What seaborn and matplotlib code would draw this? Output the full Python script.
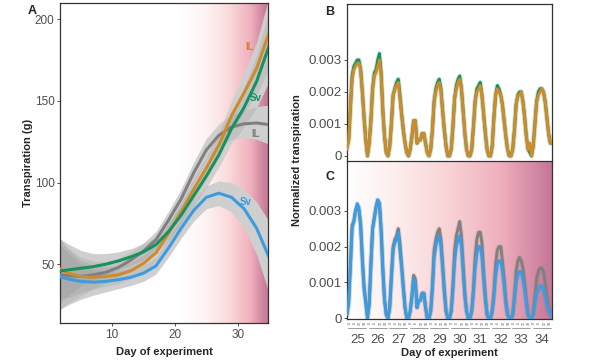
import numpy as np
import pandas as pd
import matplotlib
matplotlib.use("Agg")
import matplotlib.pyplot as plt
from matplotlib.colors import LinearSegmentedColormap
import seaborn as sns

sns.set_theme(style="white")
plt.rcParams['font.family'] = ['Liberation Sans', 'DejaVu Sans']

# ---- Panel A: smoothed whole-experiment transpiration (g) ----
days_a = [1, 3, 5, 7, 9, 11, 13, 15, 17, 19, 21, 23, 25, 27, 29, 31, 33, 35]
sv_blue = [43, 41, 39.5, 39, 39.5, 40.5, 42, 44.5, 49, 60, 72, 83, 91, 93.5, 91, 84, 72, 54]
sv_green = [45.5, 46.5, 47.5, 48.5, 50, 52, 54.5, 57.5, 62, 70, 80, 92, 104, 117, 133, 146, 162, 184]
il_orange = [49, 44.5, 42.5, 42, 42.5, 43.5, 46, 50.5, 57, 69, 82, 96, 109, 123, 141, 155, 170, 192]
il_gray = [44, 43, 42.5, 43.5, 45, 48, 52.5, 58, 65, 77, 90, 106, 120, 129, 134, 136, 136.5, 135.5]
# half-width of the confidence bands
band_sv = [22, 16, 11, 8, 6.5, 5.5, 5, 5, 5, 5.5, 6, 6.5, 7, 7.5, 9, 12, 16, 22]
band_il_orange = [20, 15, 10, 7.5, 6, 5.5, 5, 5, 5, 5.5, 6, 6.5, 7, 7.5, 9, 12, 16, 22]
band_il_gray = [24, 17, 12, 8.5, 6.5, 5.5, 5, 5, 5, 5.5, 6, 6.5, 7, 7, 7.5, 8.5, 10, 12]

# ---- Panels B/C: normalized transpiration, 2-hourly, x1e-3 ----
day_labels = [25, 26, 27, 28, 29, 30, 31, 32, 33, 34]
b_il = [
    [0.2, 0.5, 1.5, 2.4, 2.7, 2.8, 2.9, 2.9, 2.7, 2.0, 1.2, 0.5],
    [0.0, 0.4, 1.1, 2.1, 2.5, 2.6, 2.8, 3.0, 2.5, 1.4, 0.6, 0.1],
    [0.0, 0.3, 1.0, 1.9, 2.1, 2.2, 2.3, 1.8, 1.3, 0.8, 0.4, 0.1],
    [0.0, 0.2, 0.6, 1.1, 1.1, 0.4, 0.5, 0.5, 0.7, 0.7, 0.4, 0.1],
    [0.0, 0.2, 0.8, 1.7, 2.0, 2.2, 2.3, 2.0, 1.4, 0.8, 0.3, 0.0],
    [0.0, 0.2, 0.9, 1.8, 2.1, 2.3, 2.4, 2.1, 1.4, 0.7, 0.2, 0.0],
    [0.0, 0.2, 0.9, 1.7, 2.0, 2.1, 2.2, 1.9, 1.3, 0.7, 0.2, 0.0],
    [0.0, 0.3, 1.2, 1.9, 2.1, 2.0, 1.9, 1.6, 1.1, 0.6, 0.2, 0.0],
    [0.0, 0.2, 0.8, 1.6, 1.9, 1.9, 2.0, 1.7, 1.2, 0.6, 0.2, 0.4],
    [0.0, 0.3, 1.0, 1.7, 1.9, 2.0, 2.1, 2.0, 1.7, 1.2, 0.7, 0.4],
]
b_sv = [
    [0.3, 0.5, 1.5, 2.5, 2.8, 2.9, 3.0, 3.0, 2.7, 2.0, 1.2, 0.5],
    [0.0, 0.4, 1.1, 2.1, 2.6, 2.7, 3.0, 3.2, 2.6, 1.4, 0.6, 0.1],
    [0.0, 0.3, 1.0, 1.9, 2.1, 2.3, 2.4, 1.9, 1.3, 0.8, 0.4, 0.1],
    [0.0, 0.2, 0.6, 1.1, 1.1, 0.4, 0.5, 0.5, 0.7, 0.7, 0.4, 0.1],
    [0.0, 0.2, 0.8, 1.7, 2.1, 2.3, 2.4, 2.1, 1.4, 0.8, 0.3, 0.0],
    [0.0, 0.2, 0.9, 1.8, 2.2, 2.4, 2.5, 2.1, 1.4, 0.7, 0.2, 0.0],
    [0.0, 0.2, 0.9, 1.7, 2.1, 2.2, 2.3, 1.9, 1.3, 0.7, 0.2, 0.0],
    [0.0, 0.3, 1.2, 1.9, 2.2, 2.1, 1.9, 1.6, 1.1, 0.6, 0.2, 0.0],
    [0.0, 0.2, 0.8, 1.6, 1.9, 2.0, 2.0, 1.7, 1.2, 0.6, 0.2, 0.1],
    [0.0, 0.3, 1.0, 1.7, 2.0, 2.1, 2.1, 2.0, 1.7, 1.2, 0.7, 0.4],
]
c_il = [
    [0.1, 0.5, 1.5, 2.6, 2.7, 3.0, 3.1, 3.0, 2.6, 1.7, 0.9, 0.5],
    [0.0, 0.4, 1.5, 2.5, 2.8, 3.1, 3.3, 3.2, 2.5, 1.4, 0.5, 0.1],
    [0.0, 0.3, 1.2, 2.0, 2.2, 2.3, 2.5, 2.1, 1.5, 0.9, 0.3, 0.0],
    [0.0, 0.2, 0.6, 1.2, 1.1, 0.3, 0.5, 0.5, 0.7, 0.7, 0.3, 0.0],
    [0.0, 0.2, 0.9, 1.9, 2.2, 2.4, 2.5, 2.2, 1.5, 0.8, 0.2, 0.0],
    [0.0, 0.2, 0.9, 1.9, 2.3, 2.5, 2.7, 2.3, 1.5, 0.7, 0.2, 0.0],
    [0.0, 0.2, 0.8, 1.7, 2.2, 2.4, 2.4, 2.1, 1.3, 0.6, 0.1, 0.0],
    [0.0, 0.2, 0.7, 1.5, 1.9, 2.0, 2.0, 1.6, 1.1, 0.5, 0.1, 0.0],
    [0.0, 0.1, 0.6, 1.3, 1.6, 1.7, 1.6, 1.4, 1.0, 0.5, 0.1, 0.0],
    [0.0, 0.1, 0.6, 1.1, 1.3, 1.4, 1.4, 1.3, 1.0, 0.6, 0.3, 0.1],
]
c_sv = [
    [0.1, 0.4, 1.4, 2.5, 2.7, 3.0, 3.2, 3.1, 2.6, 1.6, 0.8, 0.4],
    [0.0, 0.4, 1.5, 2.5, 2.8, 3.1, 3.3, 3.2, 2.4, 1.3, 0.5, 0.1],
    [0.0, 0.3, 1.1, 1.9, 2.1, 2.2, 2.4, 1.9, 1.4, 0.8, 0.3, 0.0],
    [0.0, 0.2, 0.6, 1.1, 1.0, 0.3, 0.5, 0.5, 0.7, 0.7, 0.3, 0.0],
    [0.0, 0.2, 0.8, 1.7, 2.0, 2.2, 2.3, 2.0, 1.4, 0.7, 0.2, 0.0],
    [0.0, 0.2, 0.8, 1.6, 2.0, 2.2, 2.3, 2.0, 1.3, 0.6, 0.2, 0.0],
    [0.0, 0.2, 0.7, 1.4, 1.8, 2.0, 2.0, 1.7, 1.1, 0.5, 0.1, 0.0],
    [0.0, 0.2, 0.6, 1.2, 1.5, 1.6, 1.6, 1.3, 0.9, 0.4, 0.1, 0.0],
    [0.0, 0.1, 0.5, 1.0, 1.2, 1.3, 1.3, 1.1, 0.8, 0.4, 0.1, 0.0],
    [0.0, 0.1, 0.4, 0.7, 0.8, 0.9, 0.9, 0.8, 0.6, 0.4, 0.2, 0.1],
]
last_val = {'b_il': 0.4, 'b_sv': 0.4, 'c_il': 0.05, 'c_sv': 0.05}

ORANGE, GREEN, BLUE, GRAY = '#cf8a2c', '#17925f', '#3d9be0', '#808080'
TICK = '#4d4d4d'

heat_a = LinearSegmentedColormap.from_list(
    'heat_a', [(0, '#ffffff'), (0.3, '#fef4f4'), (0.55, '#fbdcdd'),
               (0.8, '#f0b2bd'), (1.0, '#c47596')])
heat_c = LinearSegmentedColormap.from_list(
    'heat_c', [(0, '#ffffff'), (0.25, '#fdecec'), (0.5, '#f9d2d5'),
               (0.75, '#eeafbc'), (1.0, '#c47596')])


def series(days, last):
    vals = [v for d in days for v in d] + [last]
    hrs = np.arange(len(vals)) * 2
    return pd.DataFrame({'hour': hrs, 'val': np.array(vals) * 1e-3})


fig = plt.figure(figsize=(5.9, 3.63), dpi=100)
ax_a = fig.add_axes([0.1017, 0.1102, 0.3525, 0.8815])
ax_b = fig.add_axes([0.5881, 0.5565, 0.3475, 0.4325])
ax_c = fig.add_axes([0.5881, 0.1212, 0.3475, 0.4353])

# ---------------- Panel A ----------------
xa0, xa1, ya0, ya1 = 1.75, 34.8, 14, 210
grad = np.linspace(0, 1, 256).reshape(1, -1)
ax_a.imshow(grad, extent=[20.5, xa1, ya0, ya1], aspect='auto', cmap=heat_a, zorder=0)

d_a = np.array(days_a)
curves = [(il_gray, band_il_gray, GRAY), (il_orange, band_il_orange, ORANGE),
          (sv_green, band_sv, GREEN), (sv_blue, band_sv, BLUE)]
for y, bw, c in curves:
    y, bw = np.array(y), np.array(bw)
    ax_a.fill_between(d_a, y - bw, y + bw, color='#e0e0e0', lw=0, zorder=1)
for y, bw, c in curves:
    y, bw = np.array(y), np.array(bw)
    ax_a.fill_between(d_a, y - bw, y + bw, color='#7f7f7f', alpha=0.17, lw=0, zorder=2)
for y, bw, c in curves:
    sns.lineplot(x=d_a, y=y, color=c, lw=2.2, ax=ax_a, zorder=3)

ax_a.set_xlim(xa0, xa1)
ax_a.set_ylim(ya0, ya1)
ax_a.set_xticks([10, 20, 30])
ax_a.set_yticks([50, 100, 150, 200])
ax_a.set_xlabel('Day of experiment', fontsize=8, fontweight='bold', labelpad=5)
ax_a.set_ylabel('Transpiration (g)', fontsize=8, fontweight='bold', labelpad=1)
for lab, x, y, c in [('IL', 31.9, 183, ORANGE), ('Sv', 32.9, 152, GREEN),
                     ('IL', 32.8, 130, GRAY), ('Sv', 31.3, 88, BLUE)]:
    ax_a.text(x, y, lab, color=c, fontsize=7, fontweight='bold', ha='center', va='center', zorder=4)

# ---------------- Panels B and C ----------------
for ax, il, sv, il_c, sv_c, kil, ksv in [
        (ax_b, b_il, b_sv, ORANGE, GREEN, 'b_il', 'b_sv'),
        (ax_c, c_il, c_sv, GRAY, BLUE, 'c_il', 'c_sv')]:
    d_il = series(il, last_val[kil])
    d_sv = series(sv, last_val[ksv])
    if ax is ax_b:
        first, second = (d_sv, sv_c), (d_il, il_c)
    else:
        first, second = (d_il, il_c), (d_sv, sv_c)
    for df, c in (first, second):
        sns.lineplot(data=df, x='hour', y='val', color=c, lw=3.6, alpha=0.2, ax=ax, zorder=2)
    for df, c in (first, second):
        sns.lineplot(data=df, x='hour', y='val', color=c, lw=2.1, ax=ax, zorder=3)
    ax.set_xlim(0, 240)
    ax.set_yticks([0, 0.001, 0.002, 0.003])
    ax.set_yticklabels(['0', '0.001', '0.002', '0.003'])
    ax.set_xlabel('')
    ax.set_ylabel('')

ax_b.set_ylim(-0.00016, 0.00475)
ax_b.set_xticks([])
ax_c.set_ylim(-0.00002, 0.00439)
ax_c.imshow(grad, extent=[0, 240, -0.00002, 0.00439], aspect='auto', cmap=heat_c, zorder=0)
ax_c.set_xticks([24 * i + 12 for i in range(len(day_labels))])
ax_c.set_xticklabels([str(d) for d in day_labels])
ax_c.tick_params(axis='x', length=0, pad=11, labelsize=9.5, labelcolor=TICK)
ax_c.set_xlabel('Day of experiment', fontsize=8, fontweight='bold', labelpad=1)

# nested hour labels under each day
trans = ax_c.get_xaxis_transform()
for i in range(len(day_labels)):
    x0 = 24 * i
    for h in (0, 6, 12, 18):
        ax_c.text(x0 + h + 3, -0.028, str(h), transform=trans, fontsize=2.5,
                  color=TICK, ha='center', va='center', rotation=90, clip_on=False)
    ax_c.plot([x0 + 1.5, x0 + 22.5], [-0.055, -0.055], transform=trans,
              color='#777777', lw=0.5, clip_on=False)

fig.text(297 / 590, 1 - 160 / 363, 'Normalized transpiration', rotation=90,
         fontsize=8, fontweight='bold', ha='center', va='center')

for ax in (ax_a, ax_b, ax_c):
    for s in ax.spines.values():
        s.set_visible(True)
        s.set_color('#333333')
        s.set_linewidth(0.9)
    ax.tick_params(axis='y', length=2.5, width=0.6, color='#333333', labelsize=8.5,
                   labelcolor=TICK, pad=1.5, left=True)
for ax in (ax_b, ax_c):
    ax.tick_params(axis='y', labelsize=9.5)
ax_a.tick_params(axis='x', length=2.5, width=0.6, color='#333333', labelsize=8.5,
                 labelcolor=TICK, pad=1.5, bottom=True)
ax_b.spines['bottom'].set_visible(False)

fig.text(32 / 590, 1 - 11 / 363, 'A', fontsize=9, fontweight='bold', ha='center', va='center')
fig.text(330 / 590, 1 - 12 / 363, 'B', fontsize=9, fontweight='bold', ha='center', va='center')
fig.text(330 / 590, 1 - 177 / 363, 'C', fontsize=9, fontweight='bold', ha='center', va='center')

fig.savefig('out.png', dpi=100)
